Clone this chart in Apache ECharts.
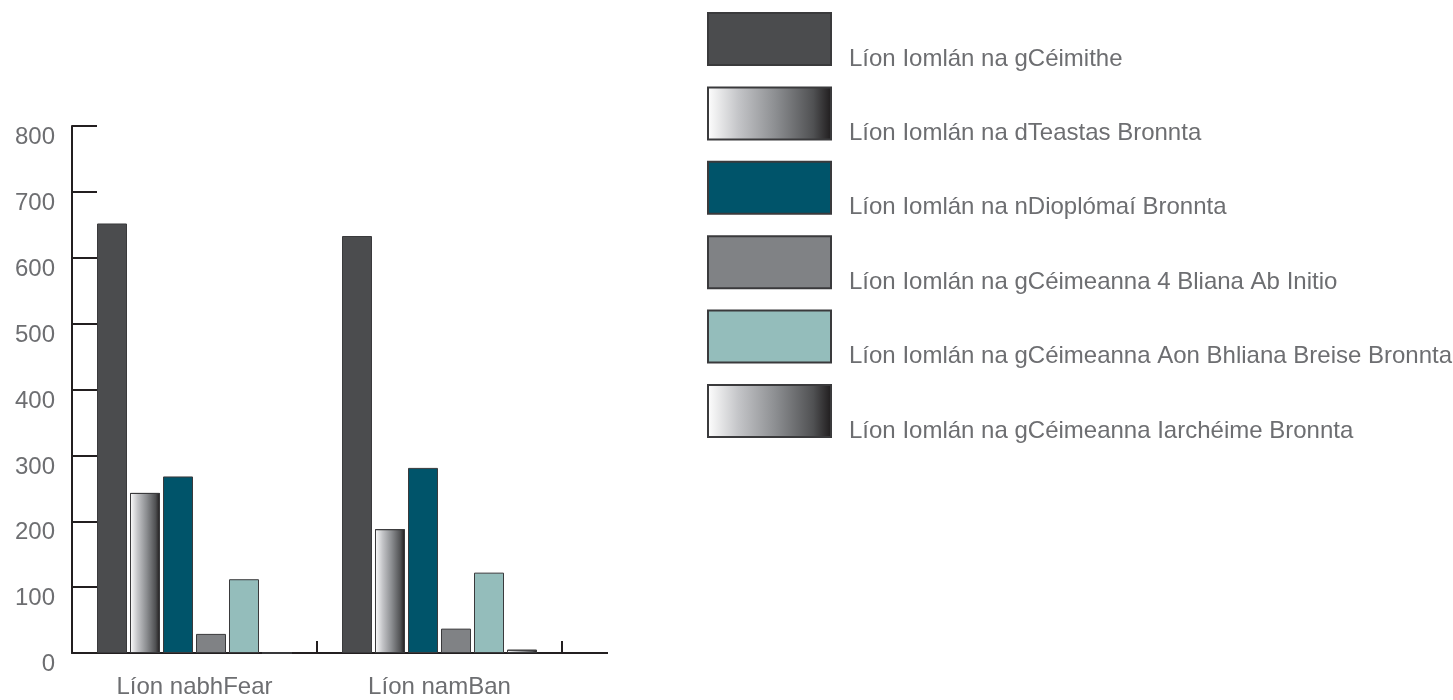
<!DOCTYPE html>
<html>
<head>
<meta charset="utf-8">
<script src="https://cdn.jsdelivr.net/npm/echarts@6/dist/echarts.min.js"></script>
<style>
html,body{margin:0;padding:0;background:#fff;}
#main{width:1453px;height:700px;}
</style>
</head>
<body>
<div id="main"></div>
<script>
const categories = ['Líon nabhFear', 'Líon namBan'];
const seriesNames = [
  'Líon Iomlán na gCéimithe',
  'Líon Iomlán na dTeastas Bronnta',
  'Líon Iomlán na nDioplómaí Bronnta',
  'Líon Iomlán na gCéimeanna 4 Bliana Ab Initio',
  'Líon Iomlán na gCéimeanna Aon Bhliana Breise Bronnta',
  'Líon Iomlán na gCéimeanna Iarchéime Bronnta'
];
const graduates = [652, 633];
const certificates = [243, 188];
const diplomas = [268, 281];
const degrees4yr = [29, 37];
const degrees1yr = [112, 122];
const postgrad = [0, 5];
const yTicks = [0, 100, 200, 300, 400, 500, 600, 700, 800];

const values = [graduates, certificates, diplomas, degrees4yr, degrees1yr, postgrad];

function grad() {
  return new echarts.graphic.LinearGradient(0, 0, 1, 0, [
    {offset: 0, color: '#ffffff'},
    {offset: 0.25, color: '#c4c5c8'},
    {offset: 0.55, color: '#8c8e91'},
    {offset: 0.85, color: '#505153'},
    {offset: 1, color: '#1e1b1c'}
  ]);
}
const colors = ['#4b4c4e', grad(), '#00546a', '#808285', '#94bdbb', grad()];

const GRID_LEFT = 72, GRID_RIGHT = 891, W = 1453;
const chart = echarts.init(document.getElementById('main'), null, {renderer: 'canvas'});
const FONT = '"Liberation Sans", Arial, Helvetica, sans-serif';

const series = seriesNames.map((name, i) => ({
  name: name,
  type: 'bar',
  data: values[i],
  barWidth: 30,
  barGap: '10%',
  itemStyle: {color: colors[i], borderColor: '#3a3a3c', borderWidth: 1},
  emphasis: {disabled: true}
}));

chart.setOption({
  animation: false,
  backgroundColor: '#ffffff',
  grid: {left: GRID_LEFT, top: 126, right: GRID_RIGHT, bottom: 47, containLabel: false},
  legend: {
    orient: 'vertical',
    left: 707,
    top: 7,
    padding: 0,
    icon: 'rect',
    itemWidth: 123,
    itemHeight: 52,
    itemGap: 10.4,
    selectedMode: false,
    data: seriesNames,
    formatter: name => '\n\n' + name,
    textStyle: {color: '#6d6e71', fontSize: 24, lineHeight: 20, fontFamily: FONT, padding: [0, 0, 0, 13]}
  },
  xAxis: {
    type: 'category',
    data: categories,
    axisLine: {lineStyle: {color: '#231f20', width: 2}},
    axisTick: {show: true, interval: 0, inside: true, length: 12, lineStyle: {color: '#231f20', width: 2}},
    axisLabel: {color: '#6d6e71', fontSize: 24, fontFamily: FONT, margin: 22}
  },
  yAxis: {
    type: 'value',
    min: yTicks[0],
    max: yTicks[yTicks.length - 1],
    interval: 100,
    splitLine: {show: false},
    axisLine: {show: true, lineStyle: {color: '#231f20', width: 2}},
    axisTick: {show: true, inside: true, length: 25, lineStyle: {color: '#231f20', width: 2}},
    axisLabel: {color: '#6d6e71', fontSize: 24, lineHeight: 23, fontFamily: FONT, margin: 17,
      formatter: v => '\n' + v}
  },
  series: series
});

// extend the baseline a little beyond the last category, as in the reference
const y0 = Math.round(chart.convertToPixel({yAxisIndex: 0}, 0));
const xEnd = W - GRID_RIGHT;
chart.setOption({
  graphic: [{
    type: 'line',
    shape: {x1: xEnd - 1, y1: y0, x2: xEnd + 46, y2: y0},
    style: {stroke: '#231f20', lineWidth: 2},
    silent: true
  }]
});
</script>
</body>
</html>
